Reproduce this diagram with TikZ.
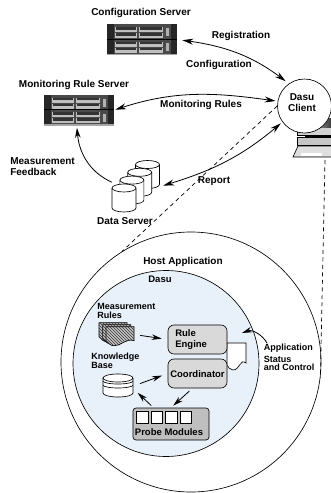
\documentclass[tikz,border=0pt]{standalone}
\usepackage{fontspec}
\setmainfont{Liberation Sans}
\usetikzlibrary{arrows.meta,patterns}
\definecolor{dasublue}{HTML}{E8F1FA}
\definecolor{rackgray}{HTML}{4A4A4A}
\newcommand{\bigfont}{\fontsize{10}{11}\selectfont\bfseries}
\newcommand{\smallfont}{\fontsize{9}{9}\selectfont\bfseries}
\newcommand{\rackserver}[2]{
\begin{scope}[shift={(#1,#2)}]
\fill [gray!70] (0,0) rectangle (70,31);
\fill [rackgray] (0,0) rectangle (70,29.5);
\fill [black!85] (0,0) rectangle (7,29.5);
\fill [black!85] (64,0) rectangle (70,29.5);
\draw [black, line width=0.8pt] (0,15) -- (70,15);
\foreach \rowy in {3,9,17.5,23.5} {
\fill [gray!50] (8,\rowy) rectangle (30,\rowy+5);
\fill [gray!50] (32,\rowy) rectangle (56,\rowy+5);
\fill [black!80] (9,\rowy) rectangle (29,\rowy+2.5);
\fill [black!80] (33,\rowy) rectangle (55,\rowy+2.5);
}
\fill [gray!60] (59,4) rectangle (62,12);
\fill [gray!60] (59,19) rectangle (62,27);
\end{scope}
}
\newcommand{\dbdrum}[4]{
\begin{scope}[shift={(#1,#2)}]
\draw [black, fill=white] (-#3,4) -- (-#3,#4-4) arc [start angle=180, end angle=0, x radius=#3, y radius=4] -- (#3,4);
\draw [black, fill=white] (0,4) ellipse [x radius=#3, y radius=4];
\end{scope}
}
\newcommand{\wavesheet}[2]{
\begin{scope}[shift={(#1,#2)}]
\draw [black, fill=gray!45] (0,0) -- (28,0) -- (28,14) .. controls (20,11) and (14,20) .. (8,19) .. controls (4,19) and (2,16) .. (0,14) -- cycle;
\fill [pattern=north west lines, pattern color=black!80] (0,0) -- (28,0) -- (28,14) .. controls (20,11) and (14,20) .. (8,19) .. controls (4,19) and (2,16) .. (0,14) -- cycle;
\end{scope}
}
\tikzset{
outerlabel/.style={font=\bigfont, align=left},
innerlabel/.style={font=\smallfont, align=left},
serverbox/.style={minimum width=70pt, minimum height=31pt},
enginebox/.style={draw=black, fill=gray!30, rounded corners=6pt, minimum width=59pt, minimum height=29pt},
probeslot/.style={draw=black, fill=white, minimum width=11.5pt, minimum height=11.5pt},
biarrow/.style={line width=0.8pt, {Stealth[length=11pt,width=6pt]}-{Stealth[length=11pt,width=6pt]}},
onearrow/.style={line width=0.8pt, -{Stealth[length=10pt,width=5.5pt]}},
dashline/.style={black, line width=0.7pt, dash pattern=on 4pt off 3.5pt}
}
\begin{document}
\begin{tikzpicture}[x=1pt,y=-1pt,line width=0.65pt]
\tikzstyle{every node}+=[inner sep=0pt]
\useasboundingbox (0,0) rectangle (331,493);
\node [serverbox] (cfgserver) at (142,39.5) {};
\rackserver{107}{24}
\node [outerlabel] (cfglabel) at (141,13) {Configuration Server};
\node [serverbox] (monserver) at (79,110) {};
\rackserver{44}{94.5}
\node [outerlabel] (monlabel) at (74,85) {Monitoring Rule Server};
\shade [left color=white, right color=black!75] (297,118) rectangle (331,128);
\fill [gray!35] (297,128) rectangle (331,135);
\draw [black] (297,118) -- (297,135) -- (331,135);
\fill [black] (305,135) rectangle (331,137);
\draw [black, fill=gray!45] (297,137.5) rectangle (332,145);
\draw [black, fill=gray!25] (298,146) -- (332,146) -- (332,157) -- (293,157) -- cycle;
\fill [white] (301,153) rectangle (322,155.5);
\coordinate (kbdfoot) at (325,160);
\node [draw=black, fill=white, circle, minimum size=54pt] (dasuclient) at (304.5,106) {};
\node [outerlabel, align=center] (dasutext) at (302,102.5) {Dasu\\Client};
\node [draw=black, circle, minimum size=260pt] (hostapp) at (191,362) {};
\node [draw=black, fill=dasublue, circle, minimum size=186pt] (dasucircle) at (166,363.5) {};
\node [outerlabel] (hostlabel) at (183,262) {Host Application};
\node [innerlabel, font=\fontsize{9.5}{9}\selectfont\bfseries] (dasulabel) at (160,279) {Dasu};
\node [minimum width=48pt, minimum height=51pt] (dataserver) at (136,186.5) {};
\dbdrum{147.5}{160.5}{12}{28}
\dbdrum{139.7}{168.3}{12}{28}
\dbdrum{131.9}{176.1}{12}{28}
\dbdrum{124}{184}{12}{28}
\node [outerlabel] (datalabel) at (125,221) {Data Server};
\node [outerlabel, anchor=west] (feedlabel) at (10,166.5) {Measurement\\Feedback};
\node [outerlabel] (reglabel) at (241,36) {Registration};
\node [outerlabel] (conflabel) at (219,65) {Configuration};
\node [outerlabel] (rulelabel) at (201,105) {Monitoring Rules};
\node [outerlabel] (reportlabel) at (214,181) {Report};
\draw [biarrow, shorten <=5pt, shorten >=4pt] (cfgserver.east) to [out=-8, in=143] (dasuclient.125);
\draw [biarrow, shorten <=1pt, shorten >=2pt] (monserver.east) to [out=18, in=172] (dasuclient.170);
\draw [onearrow, shorten >=2pt] (dataserver.170) to [out=155, in=-85] (monserver.262);
\draw [biarrow, shorten <=3pt, shorten >=2pt] (dataserver.east) to [out=17, in=220] (dasuclient.216);
\draw [dashline] (dasuclient.west) -- (hostapp.122);
\draw [dashline] (kbdfoot) -- (hostapp.-7);
\node [innerlabel, anchor=north west] (measlabel) at (97,303) {Measurement\\Rules};
\node [minimum width=35pt, minimum height=23pt] (measrules) at (116.5,334.5) {};
\wavesheet{99}{322.7}
\wavesheet{102.7}{324.7}
\wavesheet{106}{326.7}
\node [innerlabel, anchor=north west, font=\fontsize{9}{8}\selectfont\bfseries] (kblabel) at (91,353) {Knowledge\\Base};
\node [minimum width=30pt, minimum height=22pt] (kbbarrel) at (118,386) {};
\dbdrum{118}{374}{15}{23}
\draw [black] (103,381) arc [start angle=180, end angle=0, x radius=15, y radius=3];
\draw [black] (103,385) arc [start angle=180, end angle=0, x radius=15, y radius=3];
\draw [black, fill=white] (227,343) -- (246,343) -- (246,363) .. controls (240,358) and (240,370) .. (233,370) .. controls (230,370) and (228,367) .. (227,365) -- cycle;
\node [enginebox] (ruleengine) at (197.5,339.5) {};
\node [innerlabel, anchor=west, font=\fontsize{9.5}{11}\selectfont\bfseries] (ruletext) at (175,339.5) {Rule\\Engine};
\node [enginebox] (coordinator) at (197.5,373.5) {};
\node [innerlabel, font=\fontsize{9.5}{11}\selectfont\bfseries] (coordtext) at (197.5,374) {Coordinator};
\node [draw=black, fill=gray!50, rounded corners=3pt, minimum width=76pt, minimum height=32pt] (probebox) at (171,424) {};
\node [probeslot] (slota) at (142.5,417.5) {};
\node [probeslot] (slotb) at (157,417.5) {};
\node [probeslot] (slotc) at (171.5,417.5) {};
\node [probeslot] (slotd) at (186,417.5) {};
\node [innerlabel, font=\fontsize{9.5}{9}\selectfont\bfseries] (probetext) at (169,432) {Probe Modules};
\node [innerlabel, anchor=north west, font=\fontsize{9}{9}\selectfont\bfseries] (appllabel) at (263.5,344) {Application};
\node [innerlabel, anchor=north west, font=\fontsize{9}{8}\selectfont\bfseries] (statuslabel) at (263.5,356) {Status\\and Control};
\coordinate (docmark) at (242,333);
\draw [onearrow] (appllabel.north west) ++(3.5,-1) to [out=120, in=20] (docmark);
\draw [onearrow, shorten <=6pt, shorten >=6pt] (measrules.east) -- (ruleengine.west);
\draw [onearrow, shorten <=7pt, shorten >=6pt] (kbbarrel.east) -- (coordinator.west);
\draw [onearrow, shorten <=3pt, shorten >=6pt] (probebox.137) -- (kbbarrel.-10);
\draw [onearrow, shorten <=4pt, shorten >=3pt] (coordinator.-109) -- (probebox.north);
\end{tikzpicture}
\end{document}
